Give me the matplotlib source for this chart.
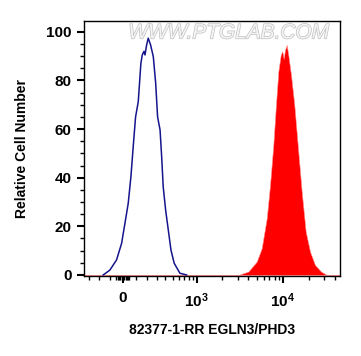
import numpy as np
import matplotlib
matplotlib.use("Agg")
import matplotlib.pyplot as plt
import matplotlib.patheffects as pe
from matplotlib.ticker import FixedLocator, FixedFormatter

plt.rcParams['font.family'] = ['Liberation Sans', 'DejaVu Sans']
plt.rcParams['mathtext.fontset'] = 'custom'
plt.rcParams['mathtext.bf'] = 'Liberation Sans:bold'
plt.rcParams['mathtext.rm'] = 'Liberation Sans:bold'

# control histogram, blue outline
ctrl_x = [-158, -102, -49, -10, 21, 41, 62, 80, 99, 121, 143, 155, 170, 179, 194, 209,
          232, 259, 284, 305, 333, 352, 371, 402, 438, 476, 526, 623, 756]
ctrl_y = [0, 2, 6.2, 13, 23, 29.5, 40.5, 52.8, 65, 71.3, 87, 90.5, 92, 90.5, 94.6, 97.4,
          94.6, 89.8, 78.9, 65, 59.7, 48.7, 36.3, 26.7, 18.5, 10.3, 4.8, 0.7, 0]

# stained sample histogram, red fill
stain_x = [-354, 3067, 3995, 4992, 5697, 6503, 7098, 7746, 8253, 8841, 9418, 9825, 10195,
           10553, 11037, 11517, 12370, 13501, 14770, 16414, 18256, 20460, 23345, 27376, 31828, 45200]
stain_y = [0, 0, 1.4, 5.5, 11, 23.3, 37, 53.5, 68.6, 83.7, 90.5, 92, 89,
           92.6, 94.6, 90.5, 82.3, 70, 53.5, 34.3, 17.8, 9.6, 4.1, 1.4, 0, 0]

xticks = [0, 1000, 10000]
xticklabels = ['0', r'$\mathbf{10^3}$', r'$\mathbf{10^4}$']
xminor = [-300, -200, -100, -50, -40, -30, -20, -10, 10, 20, 30, 40, 50,
          100, 200, 300, 400, 500, 600, 700, 800, 900,
          2000, 3000, 4000, 5000, 6000, 7000, 8000, 9000,
          20000, 30000, 40000]
yticks = [0, 20, 40, 60, 80, 100]

c = 290.0
fwd = lambda v: np.arcsinh(np.asarray(v, dtype=float) / c) / np.log(10)
inv = lambda v: c * np.sinh(np.asarray(v, dtype=float) * np.log(10))

fig = plt.figure(figsize=(3.61, 3.56), dpi=100)
ax = fig.add_axes([0.2327, 0.2256, 0.7091, 0.7163])
ax.set_xscale('function', functions=(fwd, inv))

ax.fill_between(stain_x, stain_y, 0, color='#ff0000', lw=0.4, edgecolor='#ff9090', zorder=2)
ax.plot(ctrl_x, ctrl_y, color='#14148c', lw=1.1, zorder=3)

ax.set_xlim(-354, 45200)
ax.set_ylim(-0.3, 104.6)

ax.xaxis.set_major_locator(FixedLocator(xticks))
ax.xaxis.set_major_formatter(FixedFormatter(xticklabels))
ax.xaxis.set_minor_locator(FixedLocator(xminor))
ax.yaxis.set_major_locator(FixedLocator(yticks))
ax.yaxis.set_minor_locator(FixedLocator(np.arange(0, 105, 5)))

ax.tick_params(axis='both', which='major', length=5, width=1.5, labelsize=11, pad=4)
ax.tick_params(axis='both', which='minor', length=3, width=1)
ax.tick_params(axis='x', which='major', pad=6)
for lab in ax.get_yticklabels() + ax.get_xticklabels():
    lab.set_fontweight('bold')

for s in ax.spines.values():
    s.set_linewidth(1)

ax.set_ylabel('Relative Cell Number', fontsize=10, fontweight='bold', labelpad=12)
ax.set_xlabel('82377-1-RR EGLN3/PHD3', fontsize=10, fontweight='bold', labelpad=10)

ax.text(0.566, 0.952, 'WWW.PTGLAB.COM', transform=ax.transAxes, ha='center', va='center',
        fontsize=15, color='#f4f4f4', style='italic',
        path_effects=[pe.withStroke(linewidth=1.0, foreground='#c0c0c0')], zorder=1)

fig.savefig('out.png', dpi=100)
